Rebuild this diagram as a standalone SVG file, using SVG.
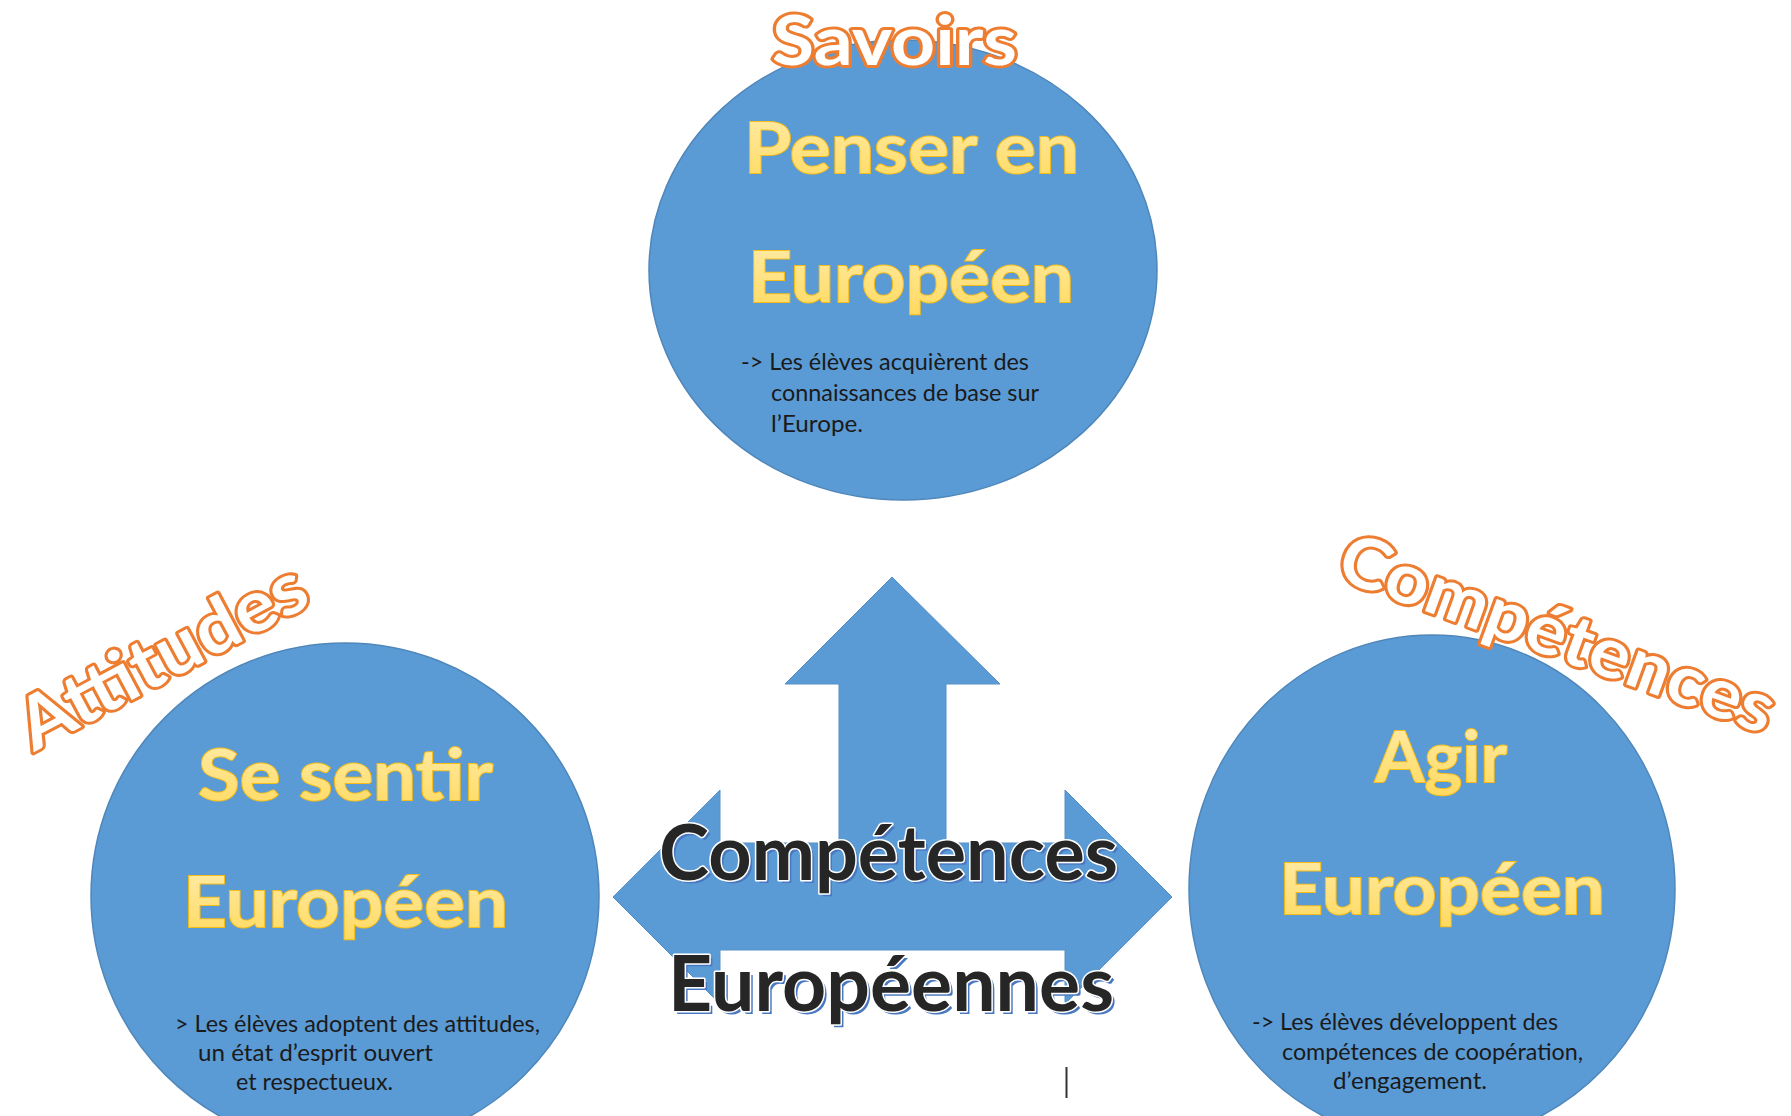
<svg xmlns="http://www.w3.org/2000/svg" width="1791" height="1116" viewBox="0 0 1791 1116">
<defs>
<linearGradient id="yg" x1="0" y1="0" x2="0" y2="1">
<stop offset="0" stop-color="#FFEDAE"/>
<stop offset="1" stop-color="#FFD95E"/>
</linearGradient>
<style>
.circle{fill:#5B9BD5;stroke:#4F87BA;stroke-width:1.5}
.arrow{fill:#5B9BD5;stroke:#5590C8;stroke-width:1}
.yel{font-family:Lato,"Open Sans",sans-serif;font-weight:bold;font-size:70px;fill:url(#yg);stroke:#F5BC1A;stroke-width:2;paint-order:stroke fill}
.org{font-family:Lato,"Open Sans",sans-serif;font-weight:bold;font-size:68px;fill:#FFFFFF;stroke:#ED7D31;stroke-width:6;stroke-linejoin:round;paint-order:stroke fill}
.body{font-family:Lato,"Open Sans",sans-serif;font-size:23px;fill:#1a1a1a}
.ctr{font-family:Lato,"Open Sans",sans-serif;font-weight:bold;font-size:76px;fill:#262626;stroke:#FFFFFF;stroke-width:3;stroke-linejoin:round;paint-order:stroke fill}
.ctrsh{font-family:Lato,"Open Sans",sans-serif;font-weight:bold;font-size:76px;fill:#4A78C0}
</style>
</defs>
<rect width="1791" height="1116" fill="#FFFFFF"/>

<g id="connectors">
<polygon class="arrow" points="892,577 1000,684 946,684 946,843 1065,843 1065,790 1172,897 1065,1004 1065,950 720,950 720,1004 613,897 720,790 720,843 839,843 839,684 785,684"/>
</g>

<g id="node-savoirs">
<ellipse class="circle" cx="903" cy="270" rx="254" ry="230"/>
<text class="org" x="772" y="65" textLength="245" lengthAdjust="spacingAndGlyphs">Savoirs</text>
<text class="yel" x="744" y="173" textLength="335" lengthAdjust="spacingAndGlyphs">Penser en</text>
<text class="yel" x="748" y="302" textLength="326" lengthAdjust="spacingAndGlyphs">Européen</text>
<text class="body" x="741" y="370" textLength="288" lengthAdjust="spacingAndGlyphs">-&gt; Les élèves acquièrent des</text>
<text class="body" x="771" y="401" textLength="268" lengthAdjust="spacingAndGlyphs">connaissances de base sur</text>
<text class="body" x="771" y="432" textLength="92" lengthAdjust="spacingAndGlyphs">l’Europe.</text>
</g>

<g id="node-attitudes">
<ellipse class="circle" cx="345" cy="896" rx="254" ry="253"/>
<text class="org" transform="translate(34,752) rotate(-28)" x="0" y="0" textLength="316" lengthAdjust="spacingAndGlyphs" style="font-size:72px">Attitudes</text>
<text class="yel" x="198" y="800" textLength="295" lengthAdjust="spacingAndGlyphs">Se sentir</text>
<text class="yel" x="183" y="927" textLength="325" lengthAdjust="spacingAndGlyphs">Européen</text>
<text class="body" x="175" y="1032" textLength="365" lengthAdjust="spacingAndGlyphs">&gt; Les élèves adoptent des attitudes,</text>
<text class="body" x="198" y="1061" textLength="235" lengthAdjust="spacingAndGlyphs">un état  d’esprit ouvert</text>
<text class="body" x="236" y="1090" textLength="157" lengthAdjust="spacingAndGlyphs">et respectueux.</text>
</g>

<g id="node-competences">
<ellipse class="circle" cx="1432" cy="889" rx="243" ry="254"/>
<text class="org" transform="translate(1334,578) rotate(20)" x="0" y="0" textLength="458" lengthAdjust="spacingAndGlyphs" style="font-size:70px">Compétences</text>
<text class="yel" x="1375" y="782" textLength="132" lengthAdjust="spacingAndGlyphs">Agir</text>
<text class="yel" x="1279" y="914" textLength="326" lengthAdjust="spacingAndGlyphs">Européen</text>
<text class="body" x="1252" y="1030" textLength="306" lengthAdjust="spacingAndGlyphs">-&gt; Les élèves développent des</text>
<text class="body" x="1282" y="1060" textLength="301" lengthAdjust="spacingAndGlyphs">compétences de coopération,</text>
<text class="body" x="1333" y="1089" textLength="154" lengthAdjust="spacingAndGlyphs">d’engagement.</text>
</g>

<g id="node-center">
<text class="ctrsh" x="662" y="883" textLength="459" lengthAdjust="spacingAndGlyphs">Compétences</text>
<text class="ctr" x="659" y="880" textLength="459" lengthAdjust="spacingAndGlyphs">Compétences</text>
<text class="ctrsh" x="671" y="1014" textLength="446" lengthAdjust="spacingAndGlyphs">Européennes</text>
<text class="ctr" x="668" y="1011" textLength="446" lengthAdjust="spacingAndGlyphs">Européennes</text>
</g>

<line x1="1066.5" y1="1067" x2="1066.5" y2="1098" stroke="#333333" stroke-width="2"/>
</svg>
